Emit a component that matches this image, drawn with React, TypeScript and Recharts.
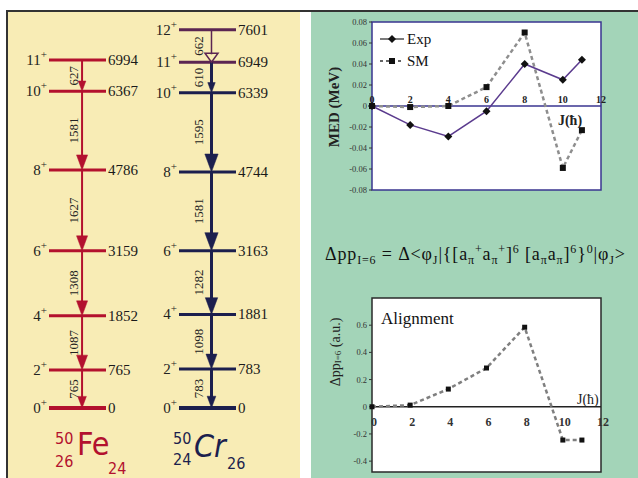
import React from 'react';
import { ComposedChart, Line, Scatter, XAxis, YAxis, ReferenceLine, ReferenceArea, ReferenceDot } from 'recharts';

// ---------------- data ----------------
const feSpins = ['0', '2', '4', '6', '8', '10', '11'];
const feEnergies = [0, 765, 1852, 3159, 4786, 6367, 6994];
const feGammas = ['765', '1087', '1308', '1627', '1581', '627'];

const crSpins = ['0', '2', '4', '6', '8', '10', '11', '12'];
const crEnergies = [0, 783, 1881, 3163, 4744, 6339, 6949, 7601];
const crGammas = ['783', '1098', '1282', '1581', '1595', '610', '662'];

const medJ = [0, 2, 4, 6, 8, 10, 11];
const medExp = [0, -0.018, -0.029, -0.005, 0.04, 0.025, 0.044];
const medSM = [0, -0.001, 0, 0.018, 0.07, -0.059, -0.023];

const alignJ = [0, 2, 4, 6, 8, 10, 11];
const alignValues = [0, 0.012, 0.13, 0.285, 0.585, -0.245, -0.245];

const jTicks = [0, 2, 4, 6, 8, 10, 12];
const medTicks = [-0.08, -0.06, -0.04, -0.02, 0, 0.02, 0.04, 0.06, 0.08];
const alignTicks = [-0.4, -0.2, 0, 0.2, 0.4, 0.6];

const formula: [string, string][] = [
  ['\u0394pp', 'n'], ['I=6', 'sub'], [' = \u0394<\u03c6', 'n'], ['J', 'sub'], ['|{[a', 'n'], ['\u03c0', 'sub'], ['+', 'sup'],
  ['a', 'n'], ['\u03c0', 'sub'], ['+', 'sup'], [']', 'n'], ['6', 'sup'], [' [a', 'n'], ['\u03c0', 'sub'], ['a', 'n'],
  ['\u03c0', 'sub'], [']', 'n'], ['6', 'sup'], ['}', 'n'], ['0', 'sup'], ['|\u03c6', 'n'], ['J', 'sub'], ['>', 'n'],
];

// ---------------- styles ----------------
const SERIF = '"Liberation Serif", "Times New Roman", serif';
const SANS = '"DejaVu Sans Condensed", "DejaVu Sans", sans-serif';
const FE_RED = '#b3112e';
const CR_NAVY = '#1c1f4e';
const CR_PURPLE = '#5b2552';

function LevelScheme(props: any) {
  const { spins, energies, gammas, color, accent, accentFrom, left, right, arrowPos, lineW, headMax, labelGap, hollowLast } = props;
  const data = energies.map((e: number) => ({ x: arrowPos, y: e }));
  return (
    <ComposedChart width={300} height={478} data={data} margin={{ top: 10, right, bottom: 70, left }}>
      <XAxis type="number" dataKey="x" domain={[0, 1]} hide />
      <YAxis type="number" dataKey="y" domain={[0, 8000]} hide />
      <Scatter dataKey="y" fill="none" shape={() => <g />} isAnimationActive={false} />
      {energies.map((e: number, i: number) => {
        const c = i >= accentFrom ? accent : color;
        return (
          <ReferenceLine
            key={`lvl${i}`}
            y={e}
            ifOverflow="visible"
            shape={(p: any) => {
              const xa = Math.min(p.x1, p.x2);
              const xb = Math.max(p.x1, p.x2);
              const y = p.y1;
              return (
                <g>
                  <line x1={xa} x2={xb} y1={y} y2={y} stroke={c} strokeWidth={i === 0 ? 4 : 3} />
                  <text x={xa - 2} y={y + 5} textAnchor="end" fontFamily={SERIF} fontSize={15} fill="#222">
                    {spins[i]}
                    <tspan dy={-7} fontSize={11}>+</tspan>
                  </text>
                  <text x={xb + 2} y={y + 5} fontFamily={SERIF} fontSize={15} fill="#1a1a1a">{e}</text>
                </g>
              );
            }}
          />
        );
      })}
      {gammas.map((g: string, i: number) => {
        const up = energies[i + 1];
        const lo = energies[i];
        const hollow = hollowLast && i === gammas.length - 1;
        const c = hollow ? accent : color;
        return (
          <ReferenceLine
            key={`tr${i}`}
            segment={[{ x: arrowPos, y: up }, { x: arrowPos, y: lo }]}
            ifOverflow="visible"
            shape={(p: any) => {
              const x = p.x1;
              const yt = Math.min(p.y1, p.y2);
              const yb = Math.max(p.y1, p.y2);
              const d = yb - yt;
              const h = hollow ? 9 : Math.min(headMax, 4 + d * 0.2);
              const w = hollow ? 6.5 : Math.max(3.5, h * 0.37);
              const cy = (yt + yb) / 2;
              const lx = x - labelGap;
              return (
                <g>
                  <line x1={x} x2={x} y1={yt} y2={yb - h + 1} stroke={c} strokeWidth={hollow ? 1.5 : lineW} />
                  <path
                    d={`M${x - w},${yb - h} L${x + w},${yb - h} L${x},${yb} Z`}
                    fill={hollow ? 'none' : c}
                    stroke={c}
                    strokeWidth={hollow ? 1.5 : 0.5}
                  />
                  <text
                    x={lx}
                    y={cy}
                    transform={`rotate(-90 ${lx} ${cy})`}
                    textAnchor="middle"
                    dominantBaseline="central"
                    fontFamily={SERIF}
                    fontSize={13}
                    fill="#222"
                  >
                    {g}
                  </text>
                </g>
              );
            }}
          />
        );
      })}
    </ComposedChart>
  );
}

const diamondDot = (p: any) => {
  if (p.cx == null || p.cy == null) return <g key={`dd${p.index}`} />;
  const s = 4;
  return <path key={`dd${p.index}`} d={`M${p.cx},${p.cy - s} L${p.cx + s},${p.cy} L${p.cx},${p.cy + s} L${p.cx - s},${p.cy} Z`} fill="#111" />;
};
const squareDot = (p: any) => {
  if (p.cx == null || p.cy == null) return <g key={`sd${p.index}`} />;
  const s = 3;
  return <rect key={`sd${p.index}`} x={p.cx - s} y={p.cy - s} width={2 * s} height={2 * s} fill="#111" />;
};
const smallSquareDot = (p: any) => {
  if (p.cx == null || p.cy == null) return <g key={`ss${p.index}`} />;
  const s = 2.5;
  return <rect key={`ss${p.index}`} x={p.cx - s} y={p.cy - s} width={2 * s} height={2 * s} fill="#111" />;
};

function MedChart() {
  const data = medJ.map((j, i) => ({ j, exp: medExp[i], sm: medSM[i] }));
  return (
    <ComposedChart width={327} height={200} data={data} margin={{ top: 11, right: 37, bottom: 21, left: 0 }}>
      <XAxis dataKey="j" type="number" domain={[0, 12]} hide />
      <YAxis
        type="number"
        domain={[-0.08, 0.08]}
        ticks={medTicks}
        interval={0}
        width={61}
        axisLine={false}
        tickSize={3}
        tickLine={{ stroke: '#333' }}
        tick={{ fontSize: 8.5, fill: '#333', fontFamily: SERIF }}
      />
      <ReferenceArea x1={0} x2={12} y1={-0.08} y2={0.08} fill="#ffffff" fillOpacity={1} stroke="#3a3590" strokeWidth={1.5} ifOverflow="visible" />
      <ReferenceLine y={0} stroke="#3a3590" strokeWidth={1.5} />
      {jTicks.map((j) => (
        <ReferenceDot
          key={`mt${j}`}
          x={j}
          y={0}
          r={0}
          ifOverflow="visible"
          shape={(p: any) => (
            <text x={p.cx} y={p.cy - 3} textAnchor="middle" fontSize={10} fontWeight="bold" fontFamily={SERIF} fill="#222">
              {j}
            </text>
          )}
        />
      ))}
      <Line dataKey="sm" type="linear" stroke="#8e8e8e" strokeWidth={2.5} strokeDasharray="4 3" dot={squareDot} isAnimationActive={false} />
      <Line dataKey="exp" type="linear" stroke="#5b3b8e" strokeWidth={1.5} dot={diamondDot} isAnimationActive={false} />
    </ComposedChart>
  );
}

function AlignChart() {
  const data = alignJ.map((j, i) => ({ j, v: alignValues[i] }));
  return (
    <ComposedChart width={327} height={198} data={data} margin={{ top: 18, right: 37, bottom: 6, left: 0 }}>
      <XAxis dataKey="j" type="number" domain={[0, 12]} hide />
      <YAxis
        type="number"
        domain={[-0.48, 0.8]}
        ticks={alignTicks}
        interval={0}
        width={61}
        axisLine={false}
        tickSize={3}
        tickLine={{ stroke: '#333' }}
        tick={{ fontSize: 8.5, fill: '#333', fontFamily: SERIF }}
      />
      <ReferenceArea x1={0} x2={12} y1={-0.48} y2={0.8} fill="#ffffff" fillOpacity={1} stroke="#2a2a2a" strokeWidth={1.5} ifOverflow="visible" />
      <ReferenceLine y={0} stroke="#222" strokeWidth={1.5} />
      {jTicks.map((j) => (
        <ReferenceDot
          key={`at${j}`}
          x={j}
          y={0}
          r={0}
          ifOverflow="visible"
          shape={(p: any) => (
            <text x={p.cx + 2} y={p.cy + 19} textAnchor="middle" fontSize={12} fontWeight="bold" fontFamily={SERIF} fill="#333">
              {j}
            </text>
          )}
        />
      ))}
      <Line dataKey="v" type="linear" stroke="#7f7f7f" strokeWidth={2.5} strokeDasharray="4 3" dot={smallSquareDot} isAnimationActive={false} />
    </ComposedChart>
  );
}

function Formula() {
  let cur = 0;
  return (
    <text x={325} y={260} fontFamily={SERIF} fontSize={18} letterSpacing={0.85} fill="#111">
      {formula.map(([t, k], i) => {
        const target = k === 'sub' ? 4 : k === 'sup' ? -7 : 0;
        const dy = target - cur;
        cur = target;
        return (
          <tspan key={i} dy={dy} fontSize={k === 'n' ? 18 : 12}>
            {t}
          </tspan>
        );
      })}
    </text>
  );
}

function Overlay() {
  return (
    <svg width={638} height={478} style={{ position: 'absolute', left: 0, top: 0, pointerEvents: 'none' }}>
      {/* MED chart labels */}
      <text x={334} y={107} transform="rotate(-90 334 107)" textAnchor="middle" dominantBaseline="central" fontFamily={SERIF} fontSize={15} fontWeight="bold" fill="#222">
        MED (MeV)
      </text>
      <text x={570} y={125} textAnchor="middle" fontFamily={SERIF} fontSize={14} fontWeight="bold" fill="#222">J(ħ)</text>
      {/* legend */}
      <line x1={380} x2={404} y1={39} y2={39} stroke="#333" strokeWidth={1.3} />
      <path d="M392,35 L396,39 L392,43 L388,39 Z" fill="#111" />
      <text x={407} y={44} fontFamily={SERIF} fontSize={15} fill="#111">Exp</text>
      <line x1={380} x2={404} y1={61} y2={61} stroke="#333" strokeWidth={1.5} strokeDasharray="3 3" />
      <rect x={389} y={58} width={6} height={6} fill="#111" />
      <text x={407} y={66} fontFamily={SERIF} fontSize={15} fill="#111">SM</text>
      {/* formula */}
      <Formula />
      {/* Alignment chart labels */}
      <text x={381} y={324} fontFamily={SERIF} fontSize={17} fill="#111">Alignment</text>
      <text x={577} y={404} fontFamily={SERIF} fontSize={14} fill="#222">J(ħ)</text>
      <text x={335} y={352} transform="rotate(-90 335 352)" textAnchor="middle" dominantBaseline="central" fontFamily={SERIF} fontSize={14} fill="#222">
        {'\u0394pp'}
        <tspan dy={3} fontSize={9}>I=6</tspan>
        <tspan dy={-3} fontSize={14}> (a.u.)</tspan>
      </text>
      {/* isotope labels */}
      <g fill={FE_RED} fontFamily={SANS}>
        <text x={55} y={444} fontSize={16}>50</text>
        <text x={55} y={467} fontSize={16}>26</text>
        <text x={77} y={455} fontSize={32}>Fe</text>
        <text x={108} y={474} fontSize={16}>24</text>
      </g>
      <g fill={CR_NAVY} fontFamily={SANS}>
        <text x={173} y={444} fontSize={16}>50</text>
        <text x={173} y={465} fontSize={16}>24</text>
        <text x={194} y={457} fontSize={32} fontStyle="italic">Cr</text>
        <text x={227} y={469} fontSize={16}>26</text>
      </g>
    </svg>
  );
}

export default function App() {
  return (
    <div style={{ position: 'absolute', left: 0, top: 0, width: 638, height: 478, overflow: 'hidden', background: '#ffffff' }}>
      <div style={{ position: 'absolute', left: 8, top: 11, width: 292, height: 467, background: '#f8ecb5' }} />
      <div style={{ position: 'absolute', left: 311, top: 11, width: 327, height: 467, background: '#a3d4b8' }} />
      <div style={{ position: 'absolute', left: 6, top: 10, width: 632, height: 2, background: '#333' }} />
      <div style={{ position: 'absolute', left: 6, top: 10, width: 2, height: 468, background: '#333' }} />
      <div style={{ position: 'absolute', left: 0, top: 0 }}>
        <LevelScheme
          spins={feSpins}
          energies={feEnergies}
          gammas={feGammas}
          color={FE_RED}
          accent={FE_RED}
          accentFrom={99}
          left={49}
          right={194}
          arrowPos={0.58}
          lineW={2}
          headMax={15}
          labelGap={9}
          hollowLast={false}
        />
      </div>
      <div style={{ position: 'absolute', left: 0, top: 0 }}>
        <LevelScheme
          spins={crSpins}
          energies={crEnergies}
          gammas={crGammas}
          color={CR_NAVY}
          accent={CR_PURPLE}
          accentFrom={6}
          left={179}
          right={64}
          arrowPos={0.57}
          lineW={3}
          headMax={18}
          labelGap={13}
          hollowLast={true}
        />
      </div>
      <div style={{ position: 'absolute', left: 311, top: 11 }}>
        <MedChart />
      </div>
      <div style={{ position: 'absolute', left: 311, top: 280 }}>
        <AlignChart />
      </div>
      <Overlay />
    </div>
  );
}
